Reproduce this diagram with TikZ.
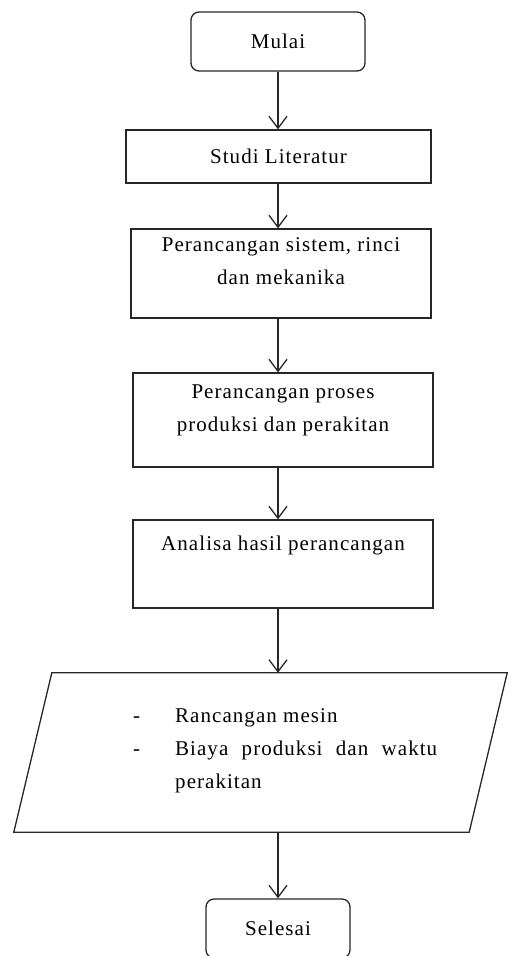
\documentclass[tikz,border=0pt]{standalone}
\usepackage{fontspec}
\setmainfont{Liberation Serif}[LetterSpace=5]
\usepackage{array}
\usetikzlibrary{arrows.meta,positioning}

\begin{document}
\begin{tikzpicture}[x=1pt, y=-1pt,
    box/.style={draw=black!85, line width=1.3pt, rectangle, inner sep=0pt},
    termbox/.style={box, rounded corners=8pt},
    txt/.style={font=\fontsize{21}{33}\selectfont, align=center, inner sep=0pt},
    flow/.style={draw=black!85, line width=1.3pt, -{Straight Barb[length=12pt, width=18pt]}}]
    \useasboundingbox (0,0) rectangle (507,956);

    % Start and study of literature
    \node[termbox, txt, minimum width=174pt, minimum height=59pt] (mulai) at (278,41.5) {Mulai};
    \node[box, txt, minimum width=305pt, minimum height=53pt] (studi) at (278.5,156.5) {Studi Literatur};

    % Design steps (text sits at the top of each box)
    \node[box, minimum width=300pt, minimum height=89pt] (sistem) at (281,273.5) {};
    \node[txt, below=9pt of sistem.north] (sistemtxt) {Perancangan sistem, rinci\\dan mekanika};
    \node[box, minimum width=300pt, minimum height=94pt] (proses) at (283,420) {};
    \node[txt, below=12pt of proses.north] (prosestxt) {Perancangan proses\\produksi dan perakitan};
    \node[box, minimum width=300pt, minimum height=88pt] (analisa) at (283,564) {};
    \node[txt, below=16pt of analisa.north] (analisatxt) {Analisa hasil perancangan};

    % Output (parallelogram drawn round an empty node)
    \node[inner sep=0pt, minimum width=493pt, minimum height=159pt] (hasil) at (260.5,752.5) {};
    \draw[draw=black!85, line width=1.3pt] ([xshift=38pt]hasil.north west) -- (hasil.north east)
        -- ([xshift=-38pt]hasil.south east) -- (hasil.south west) -- cycle;
    \node[txt, anchor=north west] (hasiltxt) at (133,699) {%
        \begin{tabular}{@{}p{42pt}@{}p{262pt}@{}}
        - & Rancangan mesin\\
        - & Biaya produksi dan waktu perakitan
        \end{tabular}};

    % End
    \node[termbox, txt, minimum width=144pt, minimum height=59pt] (selesai) at (278,928.5) {Selesai};

    % Connectors
    \draw[flow] (mulai.south) -- (studi.north -| mulai);
    \draw[flow] (studi.south -| mulai) -- (sistem.north -| mulai);
    \draw[flow] (sistem.south -| mulai) -- (proses.north -| mulai);
    \draw[flow] (proses.south -| mulai) -- (analisa.north -| mulai);
    \draw[flow] (analisa.south -| mulai) -- (hasil.north -| mulai);
    \draw[flow] (hasil.south -| mulai) -- (selesai.north);
\end{tikzpicture}
\end{document}
